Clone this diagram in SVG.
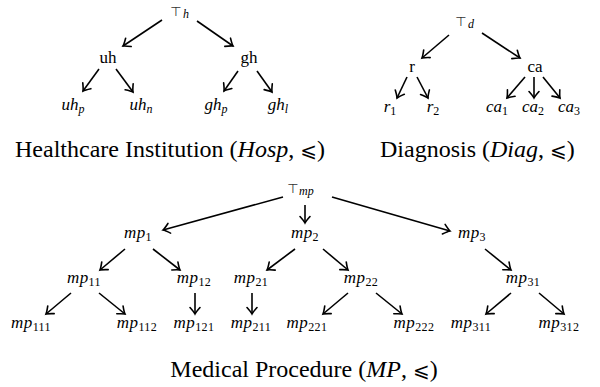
<svg xmlns="http://www.w3.org/2000/svg" width="600" height="387" viewBox="0 0 600 387">
<defs>
<marker id="a" markerUnits="userSpaceOnUse" markerWidth="14" markerHeight="14" refX="0" refY="0" viewBox="-8 -7 10 14" orient="auto">
<path d="M-6.5,-5 Q-2,-1 0,0 Q-2,1 -6.5,5" fill="none" stroke="#000" stroke-width="1.6" stroke-linecap="round"/>
</marker>
</defs>

<!-- Healthcare tree -->
<g id="top_h"><text x="176" y="16" font-family="DejaVu Sans" font-size="13" fill="#333" text-anchor="middle">⊤</text><text x="183" y="18" font-family="Liberation Serif" font-size="12" font-style="italic">h</text></g>
<g id="uh"><text font-family="Liberation Serif" font-size="17" x="108" y="63" text-anchor="middle">uh</text></g>
<g id="gh"><text font-family="Liberation Serif" font-size="17" x="249" y="63" text-anchor="middle">gh</text></g>
<g id="uh_p"><text font-family="Liberation Serif" font-size="17" font-style="italic" x="73" y="110" text-anchor="middle">uh<tspan font-size="12" dy="3">p</tspan></text></g>
<g id="uh_n"><text font-family="Liberation Serif" font-size="17" font-style="italic" x="141" y="110" text-anchor="middle">uh<tspan font-size="12" dy="3">n</tspan></text></g>
<g id="gh_p"><text font-family="Liberation Serif" font-size="17" font-style="italic" x="216" y="110" text-anchor="middle">gh<tspan font-size="12" dy="3">p</tspan></text></g>
<g id="gh_l"><text font-family="Liberation Serif" font-size="17" font-style="italic" x="278" y="110" text-anchor="middle">gh<tspan font-size="12" dy="3">l</tspan></text></g>
<g id="cap_h"><text font-family="Liberation Serif" font-size="24" x="15" y="157">Healthcare Institution (<tspan font-style="italic">Hosp</tspan>, <tspan font-size="20" font-family="DejaVu Sans">⩽</tspan>)</text></g>

<!-- Diagnosis tree -->
<g id="top_d"><text x="461" y="26" font-family="DejaVu Sans" font-size="13" fill="#333" text-anchor="middle">⊤</text><text x="468" y="28" font-family="Liberation Serif" font-size="12" font-style="italic">d</text></g>
<g id="r"><text font-family="Liberation Serif" font-size="17" x="412" y="72" text-anchor="middle">r</text></g>
<g id="ca"><text font-family="Liberation Serif" font-size="17" x="535" y="72" text-anchor="middle">ca</text></g>
<g id="r1"><text font-family="Liberation Serif" font-size="17" font-style="italic" x="390" y="112" text-anchor="middle">r<tspan font-size="12" font-style="normal" dy="3">1</tspan></text></g>
<g id="r2"><text font-family="Liberation Serif" font-size="17" font-style="italic" x="433" y="112" text-anchor="middle">r<tspan font-size="12" font-style="normal" dy="3">2</tspan></text></g>
<g id="ca1"><text font-family="Liberation Serif" font-size="17" font-style="italic" x="497" y="112" text-anchor="middle">ca<tspan font-size="12" font-style="normal" dy="3">1</tspan></text></g>
<g id="ca2"><text font-family="Liberation Serif" font-size="17" font-style="italic" x="533" y="112" text-anchor="middle">ca<tspan font-size="12" font-style="normal" dy="3">2</tspan></text></g>
<g id="ca3"><text font-family="Liberation Serif" font-size="17" font-style="italic" x="569" y="112" text-anchor="middle">ca<tspan font-size="12" font-style="normal" dy="3">3</tspan></text></g>
<g id="cap_d"><text font-family="Liberation Serif" font-size="24" x="380" y="157">Diagnosis (<tspan font-style="italic">Diag</tspan>, <tspan font-size="20" font-family="DejaVu Sans">⩽</tspan>)</text></g>

<!-- Medical procedure tree -->
<g id="top_mp"><text x="293" y="193" font-family="DejaVu Sans" font-size="13" fill="#333" text-anchor="middle">⊤</text><text x="299" y="195" font-family="Liberation Serif" font-size="12" font-style="italic">mp</text></g>
<g id="mp1"><text font-family="Liberation Serif" font-size="17" font-style="italic" letter-spacing="0.4" x="138" y="238" text-anchor="middle">mp<tspan font-size="12" font-style="normal" dy="3">1</tspan></text></g>
<g id="mp2"><text font-family="Liberation Serif" font-size="17" font-style="italic" letter-spacing="0.4" x="305" y="238" text-anchor="middle">mp<tspan font-size="12" font-style="normal" dy="3">2</tspan></text></g>
<g id="mp3"><text font-family="Liberation Serif" font-size="17" font-style="italic" letter-spacing="0.4" x="472" y="238" text-anchor="middle">mp<tspan font-size="12" font-style="normal" dy="3">3</tspan></text></g>
<g id="mp11"><text font-family="Liberation Serif" font-size="17" font-style="italic" letter-spacing="0.4" x="84" y="283" text-anchor="middle">mp<tspan font-size="12" font-style="normal" dy="3">11</tspan></text></g>
<g id="mp12"><text font-family="Liberation Serif" font-size="17" font-style="italic" letter-spacing="0.4" x="194" y="283" text-anchor="middle">mp<tspan font-size="12" font-style="normal" dy="3">12</tspan></text></g>
<g id="mp21"><text font-family="Liberation Serif" font-size="17" font-style="italic" letter-spacing="0.4" x="251" y="283" text-anchor="middle">mp<tspan font-size="12" font-style="normal" dy="3">21</tspan></text></g>
<g id="mp22"><text font-family="Liberation Serif" font-size="17" font-style="italic" letter-spacing="0.4" x="361" y="283" text-anchor="middle">mp<tspan font-size="12" font-style="normal" dy="3">22</tspan></text></g>
<g id="mp31"><text font-family="Liberation Serif" font-size="17" font-style="italic" letter-spacing="0.4" x="523" y="283" text-anchor="middle">mp<tspan font-size="12" font-style="normal" dy="3">31</tspan></text></g>
<g id="mp111"><text font-family="Liberation Serif" font-size="17" font-style="italic" letter-spacing="0.4" x="31" y="328" text-anchor="middle">mp<tspan font-size="12" font-style="normal" dy="3">111</tspan></text></g>
<g id="mp112"><text font-family="Liberation Serif" font-size="17" font-style="italic" letter-spacing="0.4" x="137" y="328" text-anchor="middle">mp<tspan font-size="12" font-style="normal" dy="3">112</tspan></text></g>
<g id="mp121"><text font-family="Liberation Serif" font-size="17" font-style="italic" letter-spacing="0.4" x="194" y="328" text-anchor="middle">mp<tspan font-size="12" font-style="normal" dy="3">121</tspan></text></g>
<g id="mp211"><text font-family="Liberation Serif" font-size="17" font-style="italic" letter-spacing="0.4" x="251" y="328" text-anchor="middle">mp<tspan font-size="12" font-style="normal" dy="3">211</tspan></text></g>
<g id="mp221"><text font-family="Liberation Serif" font-size="17" font-style="italic" letter-spacing="0.4" x="307" y="328" text-anchor="middle">mp<tspan font-size="12" font-style="normal" dy="3">221</tspan></text></g>
<g id="mp222"><text font-family="Liberation Serif" font-size="17" font-style="italic" letter-spacing="0.4" x="414" y="328" text-anchor="middle">mp<tspan font-size="12" font-style="normal" dy="3">222</tspan></text></g>
<g id="mp311"><text font-family="Liberation Serif" font-size="17" font-style="italic" letter-spacing="0.4" x="471" y="328" text-anchor="middle">mp<tspan font-size="12" font-style="normal" dy="3">311</tspan></text></g>
<g id="mp312"><text font-family="Liberation Serif" font-size="17" font-style="italic" letter-spacing="0.4" x="559" y="328" text-anchor="middle">mp<tspan font-size="12" font-style="normal" dy="3">312</tspan></text></g>
<g id="cap_mp"><text font-family="Liberation Serif" font-size="24" x="304" y="377" text-anchor="middle">Medical Procedure (<tspan font-style="italic">MP</tspan>, <tspan font-size="20" font-family="DejaVu Sans">⩽</tspan>)</text></g>

<g id="connectors" stroke="#000" stroke-width="1.6" marker-end="url(#a)">
<line x1="162" y1="20" x2="123" y2="46"/>
<line x1="197" y1="21" x2="233" y2="46"/>
<line x1="99" y1="69" x2="83" y2="91"/>
<line x1="116" y1="69" x2="133" y2="92"/>
<line x1="238" y1="71" x2="224" y2="91"/>
<line x1="257" y1="71" x2="272" y2="92"/>

<line x1="449" y1="35" x2="422" y2="58"/>
<line x1="482" y1="33" x2="520" y2="58"/>
<line x1="407" y1="77" x2="397" y2="98"/>
<line x1="417" y1="77" x2="428" y2="98"/>
<line x1="525" y1="77" x2="507" y2="98"/>
<line x1="534" y1="77" x2="534" y2="98"/>
<line x1="543" y1="77" x2="560" y2="98"/>

<line x1="283" y1="197" x2="163" y2="230"/>
<line x1="305" y1="205" x2="305" y2="223"/>
<line x1="332" y1="197" x2="450" y2="231"/>
<line x1="125" y1="249" x2="100" y2="270"/>
<line x1="153" y1="249" x2="180" y2="270"/>
<line x1="295" y1="249" x2="267" y2="270"/>
<line x1="323" y1="249" x2="348" y2="270"/>
<line x1="485" y1="249" x2="511" y2="270"/>
<line x1="71" y1="293" x2="46" y2="314"/>
<line x1="99" y1="293" x2="125" y2="314"/>
<line x1="195" y1="293" x2="195" y2="314"/>
<line x1="252" y1="293" x2="252" y2="314"/>
<line x1="348" y1="293" x2="323" y2="314"/>
<line x1="376" y1="293" x2="402" y2="314"/>
<line x1="511" y1="293" x2="486" y2="314"/>
<line x1="539" y1="293" x2="564" y2="314"/>
</g>
</svg>
